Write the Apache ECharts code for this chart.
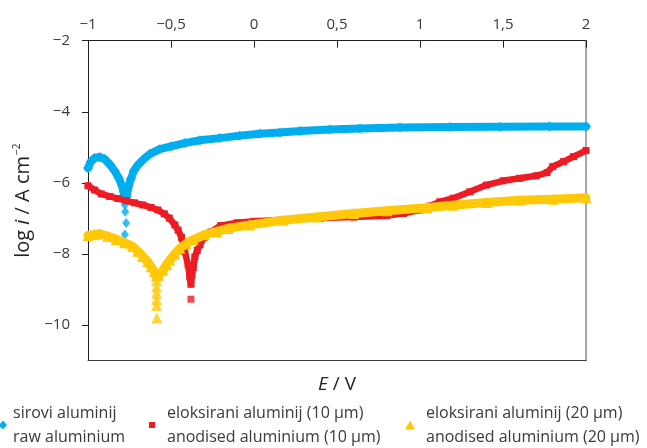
<!DOCTYPE html>
<html><head><meta charset="utf-8">
<script src="https://cdn.jsdelivr.net/npm/echarts@6/dist/echarts.min.js"></script>
<style>html,body{margin:0;padding:0;background:#fff}#c{width:647px;height:448px}</style>
</head><body><div id="c"></div>
<script>
// ---- data ----
const seriesNames = [
  'sirovi aluminij\nraw aluminium',
  'eloksirani aluminij (10 µm)\nanodised aluminium (10 µm)',
  'eloksirani aluminij (20 µm)\nanodised aluminium (20 µm)'
];
const xTicks = [-1, -0.5, 0, 0.5, 1, 1.5, 2];
const yTicks = [-10, -8, -6, -4, -2];

// raw aluminium
const rawE    = [-1.0, -0.984, -0.96, -0.93, -0.90, -0.87, -0.84, -0.815, -0.797, -0.785, -0.778, -0.767, -0.755, -0.742, -0.724, -0.70, -0.664, -0.628, -0.568, -0.50, -0.417, -0.326, -0.206, -0.086, 0.035, 0.156, 0.277, 0.457, 0.638, 0.88, 1.18, 1.48, 1.78, 2.0];
const rawLogI = [-5.58, -5.41, -5.30, -5.27, -5.33, -5.47, -5.66, -5.86, -6.06, -6.25, -6.48, -6.37, -6.09, -5.89, -5.66, -5.50, -5.33, -5.19, -5.05, -4.97, -4.88, -4.80, -4.74, -4.67, -4.62, -4.58, -4.54, -4.50, -4.47, -4.44, -4.43, -4.42, -4.41, -4.41];
const rawSpikeE    = [-0.778, -0.776, -0.770, -0.778];
const rawSpikeLogI = [-6.62, -6.81, -7.13, -7.45];

// anodised 10 um
const a10E    = [-1.0, -0.96, -0.92, -0.87, -0.82, -0.77, -0.72, -0.67, -0.62, -0.58, -0.54, -0.51, -0.477, -0.457, -0.437, -0.417, -0.397, -0.387, -0.38, -0.374, -0.366, -0.356, -0.342, -0.326, -0.30, -0.26, -0.20, -0.10, 0.0, 0.2, 0.4, 0.6, 0.8, 0.9, 1.0, 1.06, 1.12, 1.2, 1.3, 1.4, 1.5, 1.6, 1.7, 1.765, 1.8, 1.865, 1.925, 2.0];
const a10LogI = [-6.08, -6.20, -6.31, -6.38, -6.44, -6.50, -6.56, -6.62, -6.69, -6.76, -6.87, -6.99, -7.18, -7.33, -7.53, -7.93, -8.31, -8.64, -8.85, -8.60, -8.38, -8.08, -7.90, -7.74, -7.53, -7.38, -7.20, -7.12, -7.08, -7.03, -6.99, -6.96, -6.92, -6.86, -6.76, -6.65, -6.53, -6.43, -6.25, -6.06, -5.94, -5.87, -5.80, -5.71, -5.54, -5.40, -5.26, -5.09];
const a10SpikeE    = [-0.38];
const a10SpikeLogI = [-9.27];

// anodised 20 um
const a20E    = [-1.0, -0.96, -0.93, -0.88, -0.83, -0.78, -0.73, -0.70, -0.67, -0.64, -0.62, -0.60, -0.588, -0.575, -0.548, -0.527, -0.507, -0.477, -0.447, -0.41, -0.367, -0.30, -0.226, -0.155, -0.025, 0.176, 0.378, 0.6, 0.8, 1.04, 1.2, 1.4, 1.6, 1.8, 2.0];
const a20LogI = [-7.48, -7.45, -7.43, -7.50, -7.59, -7.68, -7.79, -7.92, -8.07, -8.22, -8.36, -8.50, -8.62, -8.60, -8.45, -8.30, -8.17, -8.00, -7.84, -7.71, -7.60, -7.46, -7.37, -7.28, -7.18, -7.05, -6.96, -6.86, -6.78, -6.70, -6.63, -6.55, -6.49, -6.46, -6.42];
const a20SpikeE    = [-0.587, -0.587, -0.587, -0.587, -0.587, -0.585];
const a20SpikeLogI = [-8.75, -8.93, -9.10, -9.28, -9.45, -9.80];

const colors = ['#00AEEF', '#ED1C24', '#FFC90A'];
// ---- chart ----
const pairs = (xs, ys) => xs.map((x, i) => [x, ys[i]]);
const fmt = v => String(v).replace('-', '\u2212').replace('.', ',');
const FONT = 'Open Sans';
const txt = '#3a3a3a';

function lineSeries(name, xs, ys, color, symbol, size, width, z) {
  return { name, type: 'line', data: pairs(xs, ys), xAxisIndex: 0, yAxisIndex: 0,
    symbol, symbolSize: size, showSymbol: true, showAllSymbol: true, z,
    lineStyle: { color, width, join: 'round', cap: 'round' }, itemStyle: { color },
    emphasis: { disabled: true }, animation: false };
}
function spikeSeries(name, xs, ys, color, symbol, size, z) {
  return { name, type: 'scatter', data: pairs(xs, ys), xAxisIndex: 0, yAxisIndex: 0,
    symbol, symbolSize: size, itemStyle: { color }, z, emphasis: { disabled: true }, animation: false };
}
function legendFor(name, icon, left, w, h, padLeft) {
  return { data: [{ name, icon }], left, top: 389, padding: 0, itemWidth: w, itemHeight: h,
    selectedMode: false, itemStyle: { borderWidth: 0 },
    textStyle: { fontFamily: FONT, fontSize: 16, color: txt, lineHeight: 24, padding: [24, 0, 0, padLeft] } };
}

const chart = echarts.init(document.getElementById('c'), null, { renderer: 'canvas' });
chart.setOption({
  animation: false,
  grid: { left: 88, right: 61, top: 40.7, bottom: 87.3, show: false },
  xAxis: [
    { type: 'value', position: 'top', min: xTicks[0], max: xTicks[xTicks.length - 1], interval: 0.5,
      axisLine: { onZero: false, lineStyle: { color: '#231f20', width: 1 } },
      axisTick: { inside: true, length: 7, lineStyle: { color: '#231f20' } },
      axisLabel: { formatter: fmt, fontFamily: FONT, fontSize: 15, color: txt, margin: 8 },
      splitLine: { show: false } },
    { type: 'value', position: 'bottom', min: -1, max: 2,
      axisLine: { onZero: false, lineStyle: { color: '#3a3a3a', width: 1 } },
      axisTick: { show: false }, axisLabel: { show: false }, splitLine: { show: false },
      name: '{i|E}{n| / V}', nameLocation: 'middle', nameGap: 14,
      nameTextStyle: { rich: { i: { fontFamily: FONT, fontSize: 19, fontStyle: 'italic', color: '#222' },
                               n: { fontFamily: FONT, fontSize: 19, color: '#222' } } } }
  ],
  yAxis: [
    { type: 'value', position: 'left', min: -11, max: -2, interval: 1,
      axisLine: { onZero: false, lineStyle: { color: '#231f20', width: 1 } },
      axisTick: { inside: false, length: 6, customValues: yTicks, lineStyle: { color: '#231f20' } },
      axisLabel: { customValues: yTicks, formatter: fmt, fontFamily: FONT, fontSize: 15, color: txt, margin: 18 },
      splitLine: { show: false },
      name: '{a|log }{i|i}{a| / A cm}{s|\u22122}', nameLocation: 'middle', nameGap: 50,
      nameTextStyle: { rich: {
        a: { fontFamily: FONT, fontSize: 20, color: '#222' },
        i: { fontFamily: FONT, fontSize: 20, fontStyle: 'italic', color: '#222' },
        s: { fontFamily: FONT, fontSize: 10, color: '#222', verticalAlign: 'top', padding: [0, 0, 12, 1] } } } },
    { type: 'value', position: 'right', min: -11, max: -2,
      axisLine: { onZero: false, lineStyle: { color: '#8a8a8a', width: 1.5 } },
      axisTick: { show: false }, axisLabel: { show: false }, splitLine: { show: false } }
  ],
  legend: [
    legendFor(seriesNames[0], 'diamond', -1, 8, 9, 1),
    legendFor(seriesNames[1], 'rect', 149, 6, 6, 7),
    legendFor(seriesNames[2], 'triangle', 405, 10, 9, 6)
  ],
  series: [
    lineSeries(seriesNames[0], rawE, rawLogI, colors[0], 'diamond', 10, 8, 2),
    spikeSeries(seriesNames[0], rawSpikeE, rawSpikeLogI, colors[0], 'diamond', [8, 10], 2),
    lineSeries(seriesNames[1], a10E, a10LogI, colors[1], 'rect', 7, 6.5, 3),
    spikeSeries(seriesNames[1], a10SpikeE, a10SpikeLogI, colors[1], 'rect', 7, 3),
    lineSeries(seriesNames[2], a20E, a20LogI, colors[2], 'triangle', 11, 9, 4),
    spikeSeries(seriesNames[2], a20SpikeE, a20SpikeLogI, colors[2], 'triangle', 11, 4)
  ]
});
</script>
</body></html>
